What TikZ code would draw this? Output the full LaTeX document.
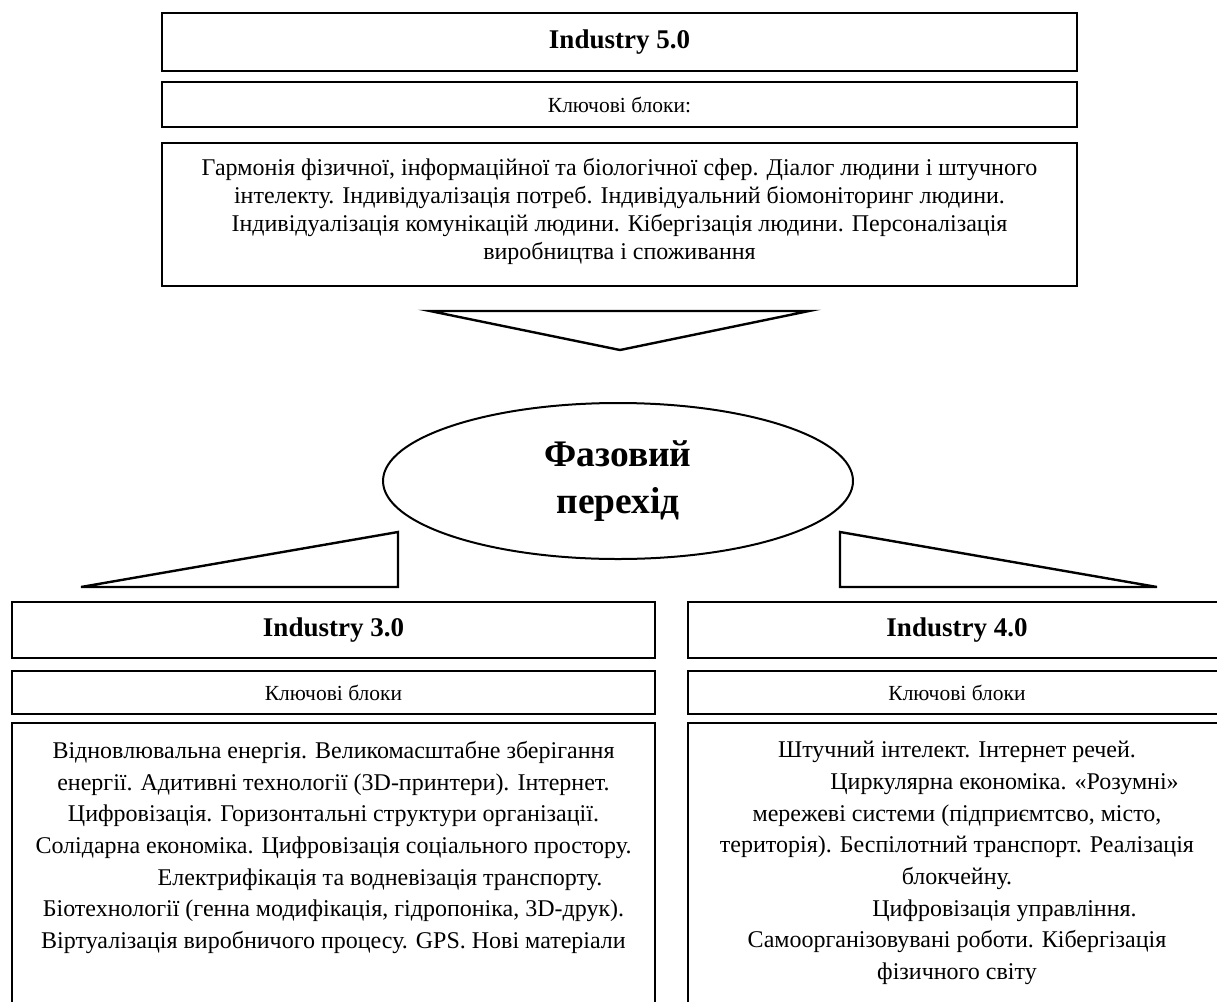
\documentclass[tikz,border=0pt]{standalone}
\usepackage{fontspec}
\setmainfont{Liberation Serif}
\usetikzlibrary{shapes.geometric}
\begin{document}
\begin{tikzpicture}[x=1pt,y=-1pt,
  frame/.style={draw, rectangle, line width=2.6pt, inner sep=0pt},
  headtext/.style={font=\fontsize{27}{30}\selectfont\bfseries},
  subtext/.style={font=\fontsize{21.5}{24}\selectfont},
  bodytext/.style={align=center, inner sep=0pt, anchor=north},
  wedge/.style={draw, line width=2.4pt, line join=miter},
]
\useasboundingbox (0,0) rectangle (1217,1001);
\fill[white] (0,0) rectangle (1217,1001);

% Industry 5.0 column
\node[frame, headtext, minimum width=915pt, minimum height=58pt] (h5) at (619.5,42) {Industry 5.0};
\node[frame, subtext, minimum width=915pt, minimum height=45pt] (k5) at (619.5,104.5) {Ключові блоки:};
\node[frame, minimum width=915pt, minimum height=143pt] (b5) at (619.5,214.5) {};
\node[bodytext, font=\fontsize{24}{28}\selectfont] (t5) at (619.5,158)
  {Гармонія фізичної, інформаційної та біологічної сфер. Діалог людини і штучного\\
   інтелекту. Індивідуалізація потреб. Індивідуальний біомоніторинг людини.\\
   Індивідуалізація комунікацій людини. Кібергізація людини. Персоналізація\\
   виробництва і споживання};

% downward wedge
\draw[wedge] (430,311) -- (809,311) -- (620,350) -- cycle;

% phase transition
\node[draw, ellipse, line width=2pt, inner sep=0pt, minimum width=470pt, minimum height=156pt,
      align=center, font=\fontsize{37.5}{47}\selectfont\bfseries] (ph) at (618,481) {Фазовий\\перехід};

% side wedges
\draw[wedge] (81,587) -- (398,532) -- (398,587) -- cycle;
\draw[wedge] (840,532) -- (840,587) -- (1157,587) -- cycle;

% Industry 3.0 column
\node[frame, headtext, minimum width=643pt, minimum height=56pt] (h3) at (333.5,630) {Industry 3.0};
\node[frame, subtext, minimum width=643pt, minimum height=43pt] (k3) at (333.5,692.5) {Ключові блоки};
\node[frame, minimum width=643pt, minimum height=290pt] (b3) at (333.5,868) {};
\node[bodytext, font=\fontsize{24}{31.7}\selectfont] (t3) at (333.5,741)
  {Відновлювальна енергія. Великомасштабне зберігання\\
   енергії. Адитивні технології (3D-принтери). Інтернет.\\
   Цифровізація. Горизонтальні структури організації.\\
   Солідарна економіка. Цифровізація соціального простору.\\
   \hspace*{93pt}Електрифікація та водневізація транспорту.\\
   Біотехнології (генна модифікація, гідропоніка, 3D-друк).\\
   Віртуалізація виробничого процесу. GPS. Нові матеріали};

% Industry 4.0 column
\node[frame, headtext, minimum width=538pt, minimum height=56pt] (h4) at (957,630) {Industry 4.0};
\node[frame, subtext, minimum width=538pt, minimum height=43pt] (k4) at (957,692.5) {Ключові блоки};
\node[frame, minimum width=538pt, minimum height=290pt] (b4) at (957,868) {};
\node[bodytext, font=\fontsize{24}{31.7}\selectfont] (t4) at (957,741)
  {Штучний інтелект. Інтернет речей.\\
   \hspace*{95pt}Циркулярна економіка. «Розумні»\\
   мережеві системи (підприємтсво, місто,\\
   територія). Беспілотний транспорт. Реалізація\\
   блокчейну.\\
   \hspace*{95pt}Цифровізація управління.\\
   Самоорганізовувані роботи. Кібергізація\\
   фізичного світу};
\end{tikzpicture}
\end{document}
